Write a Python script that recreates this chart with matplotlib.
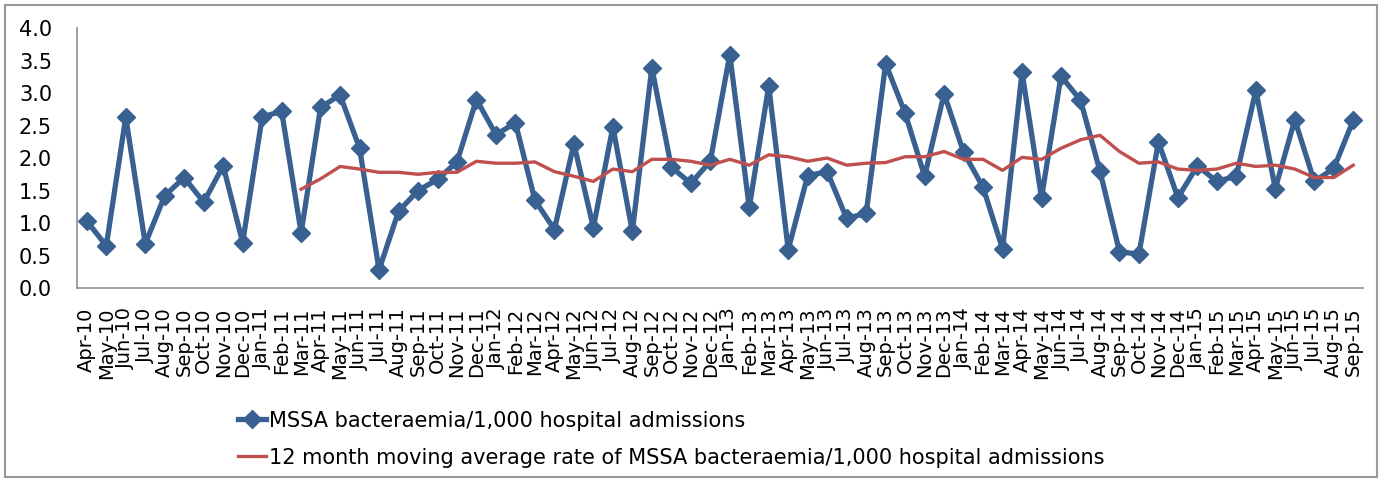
import matplotlib
matplotlib.use('Agg')

import matplotlib.pyplot as plt
from matplotlib.patches import Rectangle

months = ['Apr-10', 'May-10', 'Jun-10', 'Jul-10', 'Aug-10', 'Sep-10', 'Oct-10', 'Nov-10', 'Dec-10',
          'Jan-11', 'Feb-11', 'Mar-11', 'Apr-11', 'May-11', 'Jun-11', 'Jul-11', 'Aug-11', 'Sep-11',
          'Oct-11', 'Nov-11', 'Dec-11', 'Jan-12', 'Feb-12', 'Mar-12', 'Apr-12', 'May-12', 'Jun-12',
          'Jul-12', 'Aug-12', 'Sep-12', 'Oct-12', 'Nov-12', 'Dec-12', 'Jan-13', 'Feb-13', 'Mar-13',
          'Apr-13', 'May-13', 'Jun-13', 'Jul-13', 'Aug-13', 'Sep-13', 'Oct-13', 'Nov-13', 'Dec-13',
          'Jan-14', 'Feb-14', 'Mar-14', 'Apr-14', 'May-14', 'Jun-14', 'Jul-14', 'Aug-14', 'Sep-14',
          'Oct-14', 'Nov-14', 'Dec-14', 'Jan-15', 'Feb-15', 'Mar-15', 'Apr-15', 'May-15', 'Jun-15',
          'Jul-15', 'Aug-15', 'Sep-15']

rate = [1.03, 0.65, 2.63, 0.68, 1.42, 1.70, 1.32, 1.88, 0.70,
        2.63, 2.72, 0.85, 2.78, 2.97, 2.15, 0.28, 1.18, 1.50,
        1.67, 1.94, 2.90, 2.36, 2.54, 1.35, 0.90, 2.22, 0.93,
        2.48, 0.87, 3.39, 1.86, 1.61, 1.95, 3.59, 1.24, 3.11,
        0.59, 1.73, 1.79, 1.07, 1.15, 3.45, 2.69, 1.72, 2.99,
        2.09, 1.55, 0.60, 3.32, 1.39, 3.26, 2.89, 1.80, 0.56,
        0.52, 2.25, 1.39, 1.88, 1.64, 1.72, 3.04, 1.53, 2.59,
        1.64, 1.84, 2.58]

# 12 month moving average, starts at Mar-11
moving_avg = [None] * 11 + [
    1.52, 1.68, 1.87, 1.83, 1.78, 1.78, 1.75, 1.78, 1.78, 1.95,
    1.92, 1.92, 1.94, 1.79, 1.72, 1.64, 1.83, 1.79, 1.98, 1.98,
    1.95, 1.89, 1.98, 1.89, 2.05, 2.02, 1.95, 2.00, 1.89, 1.92,
    1.93, 2.02, 2.02, 2.10, 1.98, 1.98, 1.81, 2.01, 1.98, 2.15,
    2.28, 2.35, 2.10, 1.92, 1.94, 1.83, 1.81, 1.83, 1.92, 1.87,
    1.89, 1.83, 1.70, 1.70, 1.89]

yticks = [0.0, 0.5, 1.0, 1.5, 2.0, 2.5, 3.0, 3.5, 4.0]

blue = '#386192'
red = '#C0504D'

fig = plt.figure(figsize=(13.86, 4.79), dpi=100)
ax = fig.add_axes([0.0556, 0.3987, 0.9278, 0.5428])

x = list(range(len(months)))
ax.plot(x, rate, color=blue, linewidth=3.8, marker='D', markersize=9.5,
        label='MSSA bacteraemia/1,000 hospital admissions')
ma_x = [i for i, v in enumerate(moving_avg) if v is not None]
ma_y = [v for v in moving_avg if v is not None]
ax.plot(ma_x, ma_y, color=red, linewidth=2.4,
        label='12 month moving average rate of MSSA bacteraemia/1,000 hospital admissions')

ax.set_xlim(-0.5, len(months) - 0.5)
ax.set_ylim(0, 4.0)
ax.set_yticks(yticks)
ax.set_yticklabels(['%.1f' % v for v in yticks], fontsize=15)
ax.set_xticks(x)
ax.set_xticklabels(months, rotation=90, fontsize=14)
ax.tick_params(axis='y', length=0, pad=18)
ax.tick_params(axis='x', length=0, pad=14)

ax.spines['top'].set_visible(False)
ax.spines['right'].set_visible(False)
ax.spines['left'].set_color('#999999')
ax.spines['bottom'].set_color('#999999')
ax.spines['left'].set_linewidth(1.3)
ax.spines['bottom'].set_linewidth(1.3)

fig.legend(loc='upper left', bbox_to_anchor=(0.1655, 0.160), frameon=False,
           prop={'size': 15}, handlelength=1.35,
           handletextpad=0.15, labelspacing=0.82, borderaxespad=0)

# outer chart border
fig.patches.append(Rectangle((5 / 1386, 2 / 479), 1372 / 1386, 472 / 479,
                             transform=fig.transFigure, fill=False,
                             edgecolor='#999999', linewidth=1.5))

fig.savefig('out.png', dpi=100)
plt.close(fig)
